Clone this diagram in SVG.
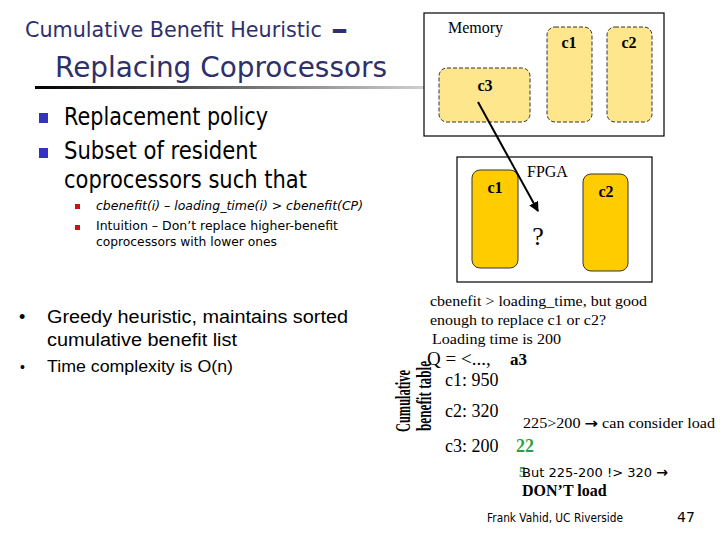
<svg xmlns="http://www.w3.org/2000/svg" width="720" height="540" viewBox="0 0 720 540">
<defs>
<linearGradient id="rule" x1="0" y1="0" x2="1" y2="0">
<stop offset="0" stop-color="#000"/>
<stop offset="1" stop-color="#d0d0d0"/>
</linearGradient>
<marker id="arr" viewBox="0 0 10 10" refX="9" refY="5" markerWidth="5" markerHeight="5" orient="auto">
<path d="M0,0 L10,5 L0,10 z" fill="#000"/>
</marker>
<style>
.title{font-family:"DejaVu Sans","Open Sans",sans-serif;fill:#2f2f6b}
.tah{font-family:"DejaVu Sans","Open Sans",sans-serif;fill:#000}
.ari{font-family:"Liberation Sans",Arial,sans-serif;fill:#000}
.ser{font-family:"Liberation Serif","Times New Roman",serif;fill:#000}
.box{fill:#fff;stroke:#000;stroke-width:1.2}
.mem{fill:#fde68c;stroke:#333;stroke-width:1;stroke-dasharray:4 2}
.fp{fill:#ffcc00;stroke:#333;stroke-width:1}
.lbl{font-family:"Liberation Serif","Times New Roman",serif;font-weight:bold;font-size:16px;fill:#000}
.green{fill:#2e9e3e}
.sym{font-family:"DejaVu Sans",sans-serif;font-weight:bold}
</style>
</defs>
<rect width="720" height="540" fill="#fff"/>

<g id="title">
<text class="title" x="25" y="37" font-size="22"><tspan textLength="297" lengthAdjust="spacingAndGlyphs">Cumulative Benefit Heuristic</tspan><tspan x="331" y="40" font-size="32" font-weight="bold" textLength="17" lengthAdjust="spacingAndGlyphs">–</tspan></text>
<text class="title" x="55" y="77" font-size="29" textLength="332" lengthAdjust="spacingAndGlyphs">Replacing Coprocessors</text>
<rect x="35" y="86" width="390" height="3" fill="url(#rule)"/>
</g>

<g id="left-bullets">
<rect x="39" y="113" width="9" height="10" fill="#3333bb"/>
<rect x="39" y="148" width="9" height="10" fill="#3333bb"/>
<text class="tah" x="64" y="125" font-size="24" textLength="204" lengthAdjust="spacingAndGlyphs">Replacement policy</text>
<text class="tah" x="64" y="159" font-size="24" textLength="193" lengthAdjust="spacingAndGlyphs">Subset of resident</text>
<text class="tah" x="64" y="188" font-size="24" textLength="243" lengthAdjust="spacingAndGlyphs">coprocessors such that</text>
<rect x="75" y="204" width="5" height="5" fill="#cc1111"/>
<rect x="75" y="225" width="5" height="5" fill="#cc1111"/>
<text class="tah" x="96" y="210" font-size="13" font-style="italic" textLength="267" lengthAdjust="spacingAndGlyphs">cbenefit(i) – loading_time(i) &gt; cbenefit(CP)</text>
<text class="tah" x="96" y="230" font-size="13" textLength="242" lengthAdjust="spacingAndGlyphs">Intuition – Don’t replace higher-benefit</text>
<text class="tah" x="96" y="246" font-size="13" textLength="181" lengthAdjust="spacingAndGlyphs">coprocessors with lower ones</text>
</g>

<g id="greedy">
<text class="ari" x="19" y="323" font-size="18">•</text>
<text class="ari" x="47" y="323" font-size="18" textLength="301" lengthAdjust="spacingAndGlyphs">Greedy heuristic, maintains sorted</text>
<text class="ari" x="47" y="346" font-size="18" textLength="190" lengthAdjust="spacingAndGlyphs">cumulative benefit list</text>
<text class="ari" x="20" y="372" font-size="14">•</text>
<text class="ari" x="47" y="372" font-size="16" textLength="186" lengthAdjust="spacingAndGlyphs">Time complexity is O(n)</text>
</g>

<g id="memory">
<rect class="box" x="424" y="13" width="240" height="123"/>
<text class="ser" x="448" y="33" font-size="16">Memory</text>
</g>
<g id="mem-c1">
<rect class="mem" x="547" y="27" width="45" height="95" rx="8"/>
<text class="lbl" x="569" y="48" text-anchor="middle">c1</text>
</g>
<g id="mem-c2">
<rect class="mem" x="607" y="27" width="45" height="95" rx="8"/>
<text class="lbl" x="629" y="48" text-anchor="middle">c2</text>
</g>
<g id="mem-c3">
<rect class="mem" x="439" y="68" width="91" height="54" rx="8"/>
<text class="lbl" x="485" y="91" text-anchor="middle">c3</text>
</g>

<g id="fpga">
<rect class="box" x="457" y="157" width="195" height="125"/>
<text class="ser" x="527" y="177" font-size="16">FPGA</text>
<text class="ser" x="538" y="245" font-size="26" text-anchor="middle">?</text>
</g>
<g id="fpga-c1">
<rect class="fp" x="472" y="170" width="46" height="98" rx="8"/>
<text class="lbl" x="495" y="193" text-anchor="middle">c1</text>
</g>
<g id="fpga-c2">
<rect class="fp" x="583" y="174" width="45" height="97" rx="8"/>
<text class="lbl" x="606" y="197" text-anchor="middle">c2</text>
</g>

<g id="connectors">
<line x1="478" y1="102" x2="538" y2="211" stroke="#000" stroke-width="2" marker-end="url(#arr)"/>
</g>

<g id="explanation">
<text class="ser" x="430" y="306" font-size="14" textLength="217" lengthAdjust="spacingAndGlyphs">cbenefit &gt; loading_time, but good</text>
<text class="ser" x="430" y="325" font-size="14" textLength="176" lengthAdjust="spacingAndGlyphs">enough to replace c1 or c2?</text>
<text class="ser" x="432" y="344" font-size="14" textLength="129" lengthAdjust="spacingAndGlyphs">Loading time is 200</text>
<text class="ser" x="427" y="365" font-size="19">Q = &lt;...,</text>
<text class="ser" x="510" y="365" font-size="17" font-weight="bold">a3</text>
</g>

<g id="table">
<text class="ser" font-size="20" font-weight="bold" transform="translate(410,432) rotate(-90)" textLength="62" lengthAdjust="spacingAndGlyphs">Cumulative</text>
<text class="ser" font-size="20" font-weight="bold" transform="translate(431,431) rotate(-90)" textLength="70" lengthAdjust="spacingAndGlyphs">benefit table</text>
<text class="ser" x="445" y="386" font-size="18">c1: 950</text>
<text class="ser" x="445" y="417" font-size="18">c2: 320</text>
<text class="ser" x="445" y="452" font-size="18">c3: 200</text>
<text class="ser green" x="516" y="452" font-size="18" font-weight="bold">22</text>
<text class="ser" x="523" y="428" font-size="14" textLength="192" lengthAdjust="spacingAndGlyphs">225&gt;200 <tspan class="sym" font-size="14">→</tspan> can consider load</text>
<text class="ser green" x="519" y="477" font-size="14" font-weight="bold">5</text>
<text class="tah" x="522" y="477" font-size="13" textLength="146" lengthAdjust="spacingAndGlyphs">But 225-200 !&gt; 320 <tspan class="sym" font-size="14">→</tspan></text>
<text class="ser" x="522" y="496" font-size="16" font-weight="bold">DON’T load</text>
</g>

<g id="footer">
<text class="tah" x="487" y="522" font-size="12" textLength="136" lengthAdjust="spacingAndGlyphs">Frank Vahid, UC Riverside</text>
<text class="tah" x="677" y="522" font-size="14">47</text>
</g>
</svg>
